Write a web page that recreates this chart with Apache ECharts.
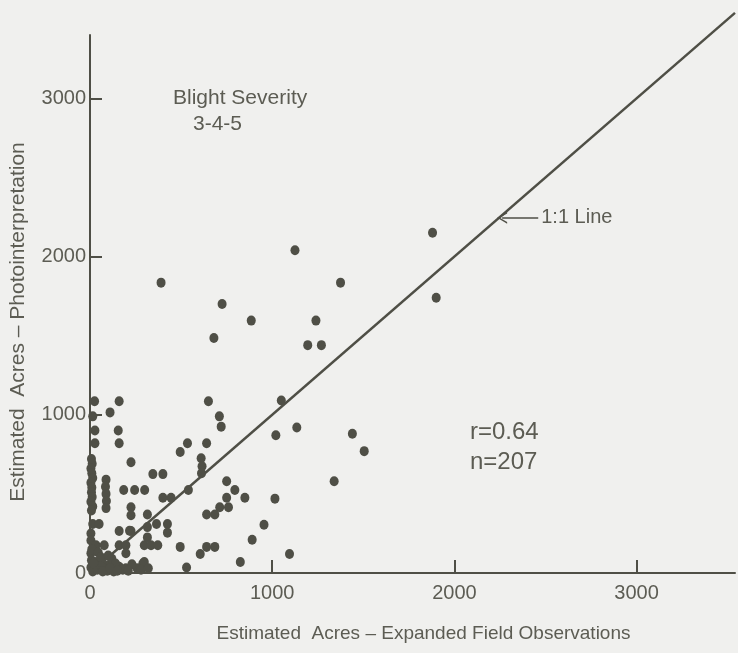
<!DOCTYPE html>
<html>
<head>
<meta charset="utf-8">
<title>Blight Severity 3-4-5</title>
<script src="https://cdn.jsdelivr.net/npm/echarts@6/dist/echarts.min.js"></script>
<style>
  html, body { margin: 0; padding: 0; background: #f0f0ee; }
  #chart { width: 738px; height: 653px; }
</style>
</head>
<body>
<div id="chart"></div>
<script>
// estimated acres, expanded field observations (x) vs photointerpretation (y)
var fieldAcres = [
    1880, 1900, 1125, 1375, 390, 725, 885, 1240, 680, 1195, 1270, 1050, 1135, 1020, 1440, 1505, 1340, 1015, 955, 890, 1095,
    650, 710, 720, 535, 495, 640, 610, 615, 612, 750, 795, 850, 750, 760, 712, 640, 685, 540, 445, 400,
    495, 640, 685, 605, 825, 530, 425, 425, 365, 315, 225, 225, 290, 258, 160, 345, 400, 300, 245, 185, 225,
    25, 160, 15, 110, 27, 155, 27, 160,
    8, 12, 5, 10, 15, 5, 10, 8, 12, 5, 15, 8,
    88, 85, 88, 90, 88,
    15, 50, 5, 5, 5, 8, 5, 15, 33, 78, 160, 197, 298, 335, 372, 197, 33, 78, 115, 160, 197, 298, 315, 315, 217, 225,
    40, 60, 95, 130, 180, 230, 10, 45, 60, 100, 120, 140, 20, 70, 110, 150, 210, 280, 320
];
var photoAcres = [
    2150, 1740, 2040, 1835, 1835, 1700, 1595, 1595, 1485, 1440, 1440, 1090, 920, 870, 880, 770, 580, 470, 305, 210, 120,
    1085, 990, 925, 820, 765, 820, 725, 675, 630, 580, 525, 475, 475, 415, 415, 370, 370, 525, 475, 475,
    165, 165, 165, 120, 70, 35, 310, 255, 310, 370, 415, 365, 60, 30, 265, 625, 625, 525, 525, 525, 700,
    1085, 1085, 990, 1015, 900, 900, 820, 820,
    720, 690, 660, 630, 600, 570, 540, 510, 480, 450, 420, 395,
    590, 545, 500, 455, 410,
    310, 310, 250, 205, 125, 80, 35, 10, 175, 175, 175, 175, 175, 175, 175, 125, 70, 50, 62, 40, 30, 70, 290, 225, 267, 265,
    20, 45, 15, 10, 20, 55, 150, 130, 100, 110, 90, 60, 60, 10, 30, 15, 15, 20, 30
];
var xTicks = [0, 1000, 2000, 3000];
var yTicks = [0, 1000, 2000, 3000];
var oneToOne = [[0, 0], [3540, 3540]];

var ink = '#4f4f46';
var textInk = '#5c5c53';
var fontName = 'Liberation Sans';

var points = [];
for (var i = 0; i < fieldAcres.length; i++) {
    points.push([fieldAcres[i], photoAcres[i]]);
}

// plain numbers, no thousands separator
function plain(v) {
    return String(v);
}

var myChart = echarts.init(document.getElementById('chart'));
myChart.setOption({
    backgroundColor: '#f0f0ee',
    animation: false,
    grid: { left: 89, right: 3, top: 35, bottom: 80, containLabel: false },
    xAxis: {
        type: 'value',
        min: 0,
        max: 3540,
        interval: 1000,
        name: 'Estimated  Acres \u2013 Expanded Field Observations',
        nameLocation: 'middle',
        nameGap: 51,
        nameTextStyle: { color: textInk, fontFamily: fontName, fontSize: 19, padding: [0, 0, 0, 22] },
        axisLine: { lineStyle: { color: ink, width: 2 } },
        axisTick: { inside: true, length: 13, lineStyle: { color: ink, width: 2 }, customValues: [1000, 2000, 3000] },
        axisLabel: { color: textInk, fontFamily: fontName, fontSize: 20, margin: 10, customValues: xTicks, formatter: plain },
        splitLine: { show: false }
    },
    yAxis: {
        type: 'value',
        min: 0,
        max: 3400,
        interval: 1000,
        name: 'Estimated  Acres \u2013 Photointerpretation',
        nameLocation: 'middle',
        nameGap: 61,
        nameTextStyle: { color: textInk, fontFamily: fontName, fontSize: 21, padding: [0, 36, 0, 0] },
        axisLine: { show: true, lineStyle: { color: ink, width: 2 } },
        axisTick: { inside: true, length: 12, lineStyle: { color: ink, width: 2 }, customValues: [1000, 2000, 3000] },
        axisLabel: { color: textInk, fontFamily: fontName, fontSize: 20, margin: 4, customValues: yTicks, formatter: plain },
        splitLine: { show: false }
    },
    graphic: [
        { type: 'text', left: 173, top: 88, style: { text: 'Blight Severity', fill: textInk, font: '21px "Liberation Sans"' } },
        { type: 'text', left: 193, top: 114, style: { text: '3-4-5', fill: textInk, font: '21px "Liberation Sans"' } },
        { type: 'text', left: 470, top: 420, style: { text: 'r=0.64', fill: textInk, font: '24px "Liberation Sans"' } },
        { type: 'text', left: 470, top: 450, style: { text: 'n=207', fill: textInk, font: '24px "Liberation Sans"' } }
    ],
    series: [
        {
            type: 'line',
            data: oneToOne,
            clip: false,
            symbol: 'none',
            lineStyle: { color: ink, width: 2.5 },
            silent: true,
            markLine: {
                silent: true,
                symbol: ['none', 'path://M0,10 L5,0 L10,10 L8.6,10 L5,2.6 L1.4,10 Z'],
                symbolSize: [12, 10],
                lineStyle: { color: ink, width: 1.5, type: 'solid' },
                label: {
                    show: true,
                    position: 'start',
                    formatter: '1:1 Line',
                    color: textInk,
                    fontFamily: fontName,
                    fontSize: 20,
                    distance: 3
                },
                data: [[{ coord: [2460, 2245] }, { coord: [2262, 2245] }]]
            }
        },
        {
            type: 'scatter',
            data: points,
            symbol: 'circle',
            symbolSize: [9, 10],
            itemStyle: { color: ink, opacity: 1 }
        }
    ]
});
</script>
</body>
</html>
